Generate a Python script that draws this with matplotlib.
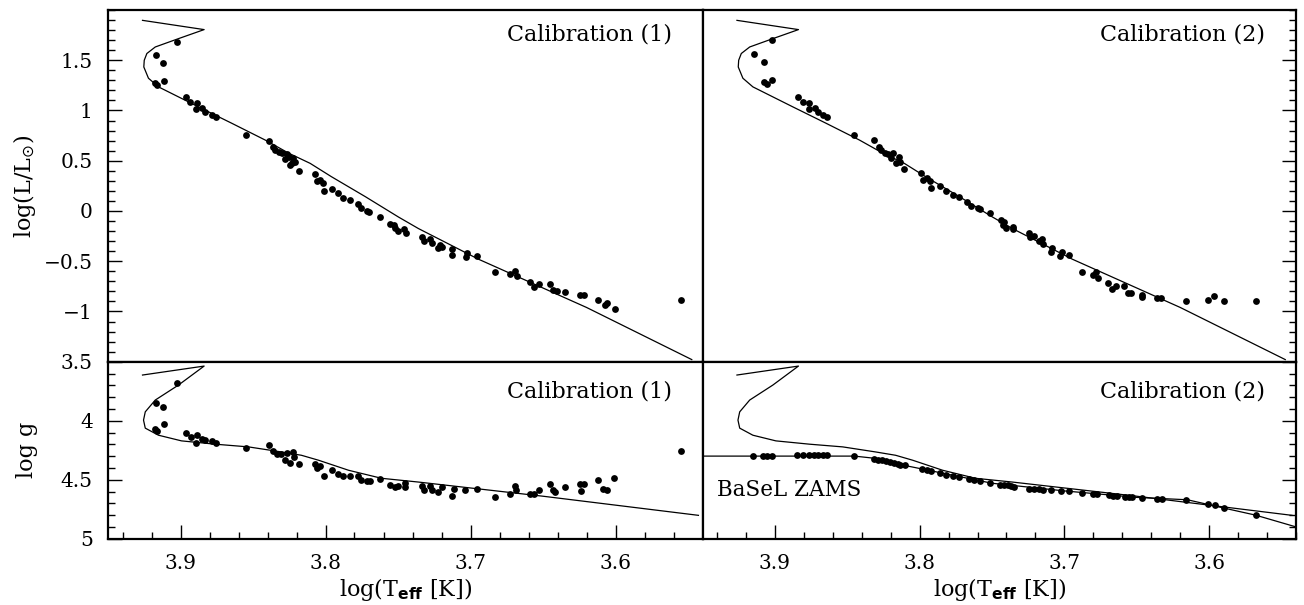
import numpy as np
import matplotlib
matplotlib.use('Agg')
import matplotlib.pyplot as plt
from matplotlib.ticker import MultipleLocator, FixedLocator, FuncFormatter

plt.rcParams['font.family'] = ['DejaVu Serif']
plt.rcParams['mathtext.fontset'] = 'dejavusans'

# ---------------- data ----------------
# isochrone (HR plane)
iso_L_logT = [3.9262, 3.8837, 3.9014, 3.9174, 3.9232, 3.9250, 3.9253, 3.9221, 3.9152,
              3.9037, 3.8876, 3.8648, 3.8416, 3.8255, 3.8106, 3.7959, 3.7726, 3.7497,
              3.7359, 3.6945, 3.6200, 3.5474]
iso_logL = [1.897, 1.805, 1.715, 1.632, 1.567, 1.500, 1.433, 1.321, 1.235,
            1.152, 1.036, 0.874, 0.706, 0.576, 0.474, 0.341, 0.143, -0.060,
            -0.175, -0.480, -0.960, -1.479]
# isochrone (log g plane)
iso_g_logT = [3.9262, 3.8837, 3.9014, 3.9174, 3.9243, 3.9255, 3.9243, 3.9152, 3.8993,
              3.8761, 3.8531, 3.8303, 3.8166, 3.8048, 3.7841, 3.7614, 3.7359, 3.6500,
              3.5428]
iso_logg = [3.613, 3.537, 3.698, 3.825, 3.925, 3.995, 4.063, 4.123, 4.171,
            4.199, 4.222, 4.265, 4.293, 4.335, 4.420, 4.488, 4.520, 4.640,
            4.802]
# BaSeL ZAMS (log g plane)
zams_logT = [3.95, 3.845, 3.830, 3.810, 3.790, 3.770, 3.750, 3.700, 3.650, 3.615, 3.590, 3.568, 3.54]
zams_logg = [4.30, 4.30, 4.32, 4.38, 4.43, 4.48, 4.53, 4.595, 4.65, 4.67, 4.74, 4.80, 4.90]

# Calibration (1): stars
c1_logT = [3.9166, 3.9122, 3.9026, 3.9174, 3.9159, 3.9117, 3.8961, 3.8933, 3.8888, 3.8894,
           3.8853, 3.8830, 3.8784, 3.8757, 3.8547, 3.8393, 3.8359, 3.8347, 3.8324, 3.8301,
           3.8267, 3.8255, 3.8278, 3.8221, 3.8232, 3.8248, 3.8209, 3.8186, 3.8071, 3.8060,
           3.8037, 3.8014, 3.8007, 3.7957, 3.7915, 3.7876, 3.7834, 3.7777, 3.7754, 3.7715,
           3.7699, 3.7623, 3.7554, 3.7531, 3.7519, 3.7497, 3.7462, 3.7446, 3.7336, 3.7324,
           3.7278, 3.7267, 3.7225, 3.7209, 3.7198, 3.7129, 3.7129, 3.7025, 3.7032, 3.6957,
           3.6830, 3.6726, 3.6692, 3.6681, 3.6593, 3.6559, 3.6526, 3.6455, 3.6428, 3.6405,
           3.6347, 3.6243, 3.6214, 3.6122, 3.6071, 3.6060, 3.6002, 3.5547]
c1_logL = [1.550, 1.473, 1.686, 1.275, 1.255, 1.291, 1.133, 1.086, 1.070, 1.013,
           1.020, 0.980, 0.954, 0.934, 0.752, 0.696, 0.639, 0.606, 0.589, 0.573,
           0.567, 0.540, 0.514, 0.524, 0.474, 0.457, 0.490, 0.401, 0.368, 0.301,
           0.308, 0.282, 0.202, 0.222, 0.176, 0.127, 0.110, 0.070, 0.027, 0.000,
           -0.012, -0.056, -0.129, -0.139, -0.172, -0.195, -0.181, -0.215, -0.255, -0.294,
           -0.281, -0.320, -0.370, -0.337, -0.354, -0.380, -0.437, -0.420, -0.454, -0.447,
           -0.612, -0.625, -0.602, -0.652, -0.702, -0.757, -0.724, -0.724, -0.791, -0.801,
           -0.811, -0.834, -0.834, -0.883, -0.933, -0.916, -0.976, -0.890]
c1_g_logT = [3.9026, 3.9166, 3.9122, 3.9174, 3.9159, 3.9117, 3.8961, 3.8929, 3.8888, 3.8894,
             3.8853, 3.8830, 3.8784, 3.8757, 3.8547, 3.8393, 3.8359, 3.8336, 3.8306, 3.8267,
             3.8278, 3.8248, 3.8221, 3.8214, 3.8186, 3.8071, 3.8060, 3.8037, 3.8007, 3.7957,
             3.7915, 3.7876, 3.7834, 3.7777, 3.7754, 3.7715, 3.7692, 3.7623, 3.7554, 3.7519,
             3.7497, 3.7451, 3.7451, 3.7336, 3.7324, 3.7278, 3.7267, 3.7225, 3.7198, 3.7129,
             3.7117, 3.7037, 3.6957, 3.6830, 3.6726, 3.6692, 3.6688, 3.6593, 3.6559, 3.6526,
             3.6455, 3.6428, 3.6416, 3.6347, 3.6243, 3.6214, 3.6236, 3.6122, 3.6083, 3.6060,
             3.6007, 3.5547]
c1_logg = [3.684, 3.848, 3.888, 4.072, 4.086, 4.032, 4.100, 4.142, 4.123, 4.185,
           4.151, 4.160, 4.171, 4.193, 4.231, 4.208, 4.256, 4.278, 4.284, 4.273,
           4.329, 4.358, 4.265, 4.307, 4.363, 4.363, 4.397, 4.386, 4.465, 4.420,
           4.448, 4.469, 4.469, 4.469, 4.499, 4.514, 4.514, 4.494, 4.548, 4.562,
           4.556, 4.562, 4.528, 4.556, 4.590, 4.556, 4.590, 4.604, 4.562, 4.635,
           4.576, 4.590, 4.576, 4.647, 4.624, 4.556, 4.590, 4.624, 4.624, 4.584,
           4.533, 4.590, 4.604, 4.562, 4.539, 4.533, 4.596, 4.499, 4.576, 4.590,
           4.482, 4.256]

# Calibration (2): stars
c2_logT = [3.9023, 3.9143, 3.9074, 3.9076, 3.9053, 3.9021, 3.8843, 3.8805, 3.8766, 3.8766,
           3.8724, 3.8701, 3.8667, 3.8637, 3.8453, 3.8317, 3.8281, 3.8264, 3.8241, 3.8219,
           3.8184, 3.8195, 3.8143, 3.8161, 3.8138, 3.8108, 3.7988, 3.7977, 3.7949, 3.7919,
           3.7926, 3.7857, 3.7816, 3.7770, 3.7729, 3.7671, 3.7643, 3.7598, 3.7586, 3.7517,
           3.7437, 3.7414, 3.7426, 3.7402, 3.7356, 3.7352, 3.7246, 3.7236, 3.7207, 3.7172,
           3.7154, 3.7149, 3.7092, 3.7088, 3.7028, 3.7016, 3.6970, 3.6878, 3.6805, 3.6781,
           3.6770, 3.6701, 3.6671, 3.6643, 3.6586, 3.6563, 3.6540, 3.6464, 3.6464, 3.6357,
           3.6333, 3.6161, 3.6005, 3.5966, 3.5894, 3.5678]
c2_logL = [1.705, 1.567, 1.487, 1.288, 1.262, 1.301, 1.136, 1.086, 1.070, 1.013,
           1.026, 0.980, 0.954, 0.937, 0.755, 0.706, 0.639, 0.606, 0.580, 0.567,
           0.580, 0.524, 0.540, 0.474, 0.490, 0.415, 0.381, 0.308, 0.325, 0.226,
           0.301, 0.249, 0.202, 0.159, 0.136, 0.093, 0.050, 0.027, 0.017, -0.016,
           -0.089, -0.106, -0.139, -0.165, -0.156, -0.182, -0.215, -0.261, -0.248, -0.294,
           -0.281, -0.327, -0.413, -0.370, -0.447, -0.404, -0.437, -0.612, -0.635, -0.612,
           -0.668, -0.718, -0.777, -0.744, -0.744, -0.817, -0.817, -0.834, -0.857, -0.867,
           -0.867, -0.900, -0.883, -0.850, -0.900, -0.900]
c2_g_logT = [3.9150, 3.9081, 3.9053, 3.9023, 3.8846, 3.8805, 3.8766, 3.8731, 3.8701, 3.8667,
             3.8637, 3.8453, 3.8317, 3.8288, 3.8257, 3.8230, 3.8207, 3.8179, 3.8150, 3.8133,
             3.8103, 3.7981, 3.7949, 3.7919, 3.7862, 3.7816, 3.7770, 3.7729, 3.7660, 3.7621,
             3.7586, 3.7517, 3.7448, 3.7414, 3.7391, 3.7368, 3.7345, 3.7246, 3.7207, 3.7172,
             3.7149, 3.7092, 3.7023, 3.6970, 3.6878, 3.6805, 3.6777, 3.6694, 3.6667, 3.6639,
             3.6579, 3.6552, 3.6533, 3.6464, 3.6357, 3.6326, 3.6161, 3.6005, 3.5959, 3.5894,
             3.5678]
c2_logg = [4.301, 4.301, 4.301, 4.301, 4.293, 4.293, 4.293, 4.293, 4.293, 4.293,
           4.293, 4.301, 4.321, 4.330, 4.336, 4.344, 4.350, 4.358, 4.364, 4.372,
           4.378, 4.406, 4.415, 4.426, 4.443, 4.463, 4.471, 4.477, 4.491, 4.506,
           4.511, 4.528, 4.543, 4.548, 4.548, 4.556, 4.562, 4.576, 4.576, 4.582,
           4.584, 4.590, 4.596, 4.599, 4.613, 4.618, 4.618, 4.633, 4.638, 4.638,
           4.647, 4.647, 4.647, 4.655, 4.661, 4.661, 4.669, 4.709, 4.717, 4.737,
           4.803]

x_ticks = [3.9, 3.8, 3.7, 3.6]
L_ticks = [-1, -0.5, 0, 0.5, 1, 1.5]
g_ticks = [3.5, 4, 4.5, 5]
panel_labels = ['Calibration (1)', 'Calibration (2)']

# ---------------- figure ----------------
W, H = 1304, 605
fig = plt.figure(figsize=(W / 100, H / 100), dpi=100)
x0, xm, x1 = 108, 702.5, 1296
yt, ym, yb = 10, 361.7, 538.7


def rect(l, r, t, b):
    return [l / W, 1 - b / H, (r - l) / W, (b - t) / H]


ax_tl = fig.add_axes(rect(x0, xm, yt, ym))
ax_tr = fig.add_axes(rect(xm, x1, yt, ym))
ax_bl = fig.add_axes(rect(x0, xm, ym, yb))
ax_br = fig.add_axes(rect(xm, x1, ym, yb))

fmt = FuncFormatter(lambda v, p: ('%g' % v).replace('-', '\u2212'))
ms = 4.9
lw = 0.9

for ax in (ax_tl, ax_tr):
    ax.plot(iso_L_logT, iso_logL, color='black', lw=lw)
    ax.set_ylim(-1.5, 2.0)
    ax.yaxis.set_major_locator(FixedLocator(L_ticks))
for ax in (ax_bl, ax_br):
    ax.plot(iso_g_logT, iso_logg, color='black', lw=lw)
    ax.set_ylim(5.0, 3.5)
    ax.yaxis.set_major_locator(FixedLocator(g_ticks))

ax_tl.plot(c1_logT, c1_logL, 'o', color='black', ms=ms, mew=0)
ax_tr.plot(c2_logT, c2_logL, 'o', color='black', ms=ms, mew=0)
ax_bl.plot(c1_g_logT, c1_logg, 'o', color='black', ms=ms, mew=0)
ax_br.plot(zams_logT, zams_logg, color='black', lw=lw)
ax_br.plot(c2_g_logT, c2_logg, 'o', color='black', ms=ms, mew=0)

for ax in (ax_tl, ax_tr, ax_bl, ax_br):
    ax.set_xlim(3.95, 3.54)
    ax.xaxis.set_major_locator(FixedLocator(x_ticks))
    ax.xaxis.set_minor_locator(MultipleLocator(0.02))
    ax.yaxis.set_minor_locator(MultipleLocator(0.1))
    ax.xaxis.set_major_formatter(fmt)
    ax.yaxis.set_major_formatter(fmt)
    for s in ax.spines.values():
        s.set_linewidth(1.6)
    ax.tick_params(which='both', direction='in', top=False, width=1.0,
                   labelsize=14.5, pad=11)
    ax.tick_params(which='major', length=10)
    ax.tick_params(which='minor', length=5)

ax_tl.tick_params(which='both', left=True, right=False, bottom=False, labelbottom=False)
ax_tr.tick_params(which='both', left=False, right=True, bottom=False,
                  labelbottom=False, labelleft=False)
ax_bl.tick_params(which='both', left=True, right=False, bottom=True)
ax_br.tick_params(which='both', left=False, right=True, bottom=True, labelleft=False)

txt_kw = dict(fontsize=16, ha='right', va='center')
ax_tl.text(0.948, 0.929, panel_labels[0], transform=ax_tl.transAxes, **txt_kw)
ax_tr.text(0.948, 0.929, panel_labels[1], transform=ax_tr.transAxes, **txt_kw)
ax_bl.text(0.948, 0.834, panel_labels[0], transform=ax_bl.transAxes, **txt_kw)
ax_br.text(0.948, 0.834, panel_labels[1], transform=ax_br.transAxes, **txt_kw)
ax_br.text(0.024, 0.275, 'BaSeL ZAMS', transform=ax_br.transAxes,
           fontsize=15.5, ha='left', va='center')

ax_tl.set_ylabel(r'log(L/L$_{\odot}$)', fontsize=16)
ax_bl.set_ylabel('log g', fontsize=16)
ax_tl.yaxis.set_label_coords(-0.118, 0.5)
ax_bl.yaxis.set_label_coords(-0.118, 0.5)
for ax in (ax_bl, ax_br):
    ax.set_xlabel(r'log(T$_{\mathbf{eff}}$ [K])', fontsize=16)
    ax.xaxis.set_label_coords(0.5, -0.21)

fig.savefig('out.png', dpi=100)
